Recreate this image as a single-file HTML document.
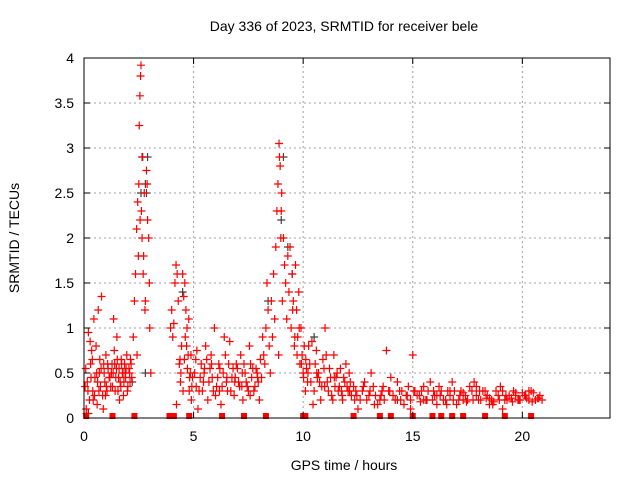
<!DOCTYPE html>
<html><head><meta charset="utf-8"><style>
body{margin:0;background:#fff;}
svg{display:block;font-family:"Liberation Sans",sans-serif;}
</style></head><body>
<svg id="chart" width="640" height="480">
<text x="344" y="31" text-anchor="middle" font-size="14">Day 336 of 2023, SRMTID for receiver bele</text>
<text x="344" y="470" text-anchor="middle" font-size="14">GPS time / hours</text>
<text transform="translate(19,238) rotate(-90)" text-anchor="middle" font-size="14">SRMTID / TECUs</text>
<g id="grid"></g><g id="marks"></g><g id="axes"></g>
</svg>
<script>
const xTicks=[0,5,10,15,20];
const yTicks=[0,0.5,1,1.5,2,2.5,3,3.5,4];
const yTickLabels=["0","0.5","1","1.5","2","2.5","3","3.5","4"];
const redT=[0.05,0.1,0.15,0.2,0.25,0.3,0.35,0.4,0.45,0.5,0.55,0.6,0.65,0.7,0.75,0.8,0.85,0.9,0.95,1.0,1.05,1.1,1.15,0.12,0.28,0.42,0.58,0.72,0.88,1.02,
1.25,1.3,1.35,1.4,1.45,1.5,1.55,1.6,1.65,1.7,1.75,1.8,1.85,1.9,1.95,2.0,2.05,2.1,2.15,1.38,1.62,1.88,
2.25,2.3,2.35,2.4,2.45,2.5,2.52,2.55,2.58,2.6,2.62,2.65,2.7,2.75,2.8,2.85,2.9,2.95,3.0,3.05,2.48,2.68,2.78,2.88,2.98,2.42,2.56,2.72,
3.95,4.0,4.05,4.1,4.15,4.2,4.25,4.3,4.35,4.4,4.45,4.5,4.55,4.6,4.65,4.7,4.75,4.8,4.85,4.9,4.95,4.22,4.38,4.62,4.78,
5.05,5.15,5.25,5.35,5.45,5.55,5.65,5.75,5.85,5.95,6.05,6.15,6.25,6.35,6.45,6.55,6.65,6.75,6.85,6.95,7.05,7.15,7.25,7.35,7.45,7.55,7.65,7.75,7.85,7.95,8.05,8.15,5.2,5.6,6.0,6.4,6.8,7.2,7.6,8.0,
8.25,8.3,8.35,8.4,8.45,8.5,8.55,8.6,8.65,8.7,8.75,8.8,8.85,8.9,8.95,9.0,9.05,9.1,9.15,9.2,9.25,9.3,9.35,9.4,9.45,9.5,9.55,9.6,9.65,9.7,9.75,9.8,9.85,9.9,9.95,10.0,10.05,10.1,10.15,10.2,8.92,8.98,9.02,8.88,
10.3,10.4,10.5,10.6,10.7,10.8,10.9,11.0,11.1,11.2,11.3,11.4,11.5,11.6,11.7,11.8,11.9,12.0,12.1,12.2,10.45,10.75,11.05,11.35,11.65,11.95,
12.4,12.6,12.8,13.0,13.2,13.4,13.6,13.8,14.0,14.2,14.4,14.6,14.8,15.0,15.2,15.4,15.6,15.8,16.0,16.2,16.4,16.6,16.8,17.0,17.2,17.4,17.6,17.8,18.0,18.2,18.4,18.6,18.8,19.0,19.2,19.4,19.6,19.8,20.0,20.2,20.4,20.6,20.8,12.5,13.1,13.7,14.3,14.9,15.5,16.1,16.7,17.3,17.9,18.5,19.1,19.7,20.3];
const redV=[0.35,0.1,0.4,0.95,0.2,0.6,0.75,0.3,1.1,0.45,0.8,0.15,1.2,0.5,0.35,1.35,0.25,0.6,0.4,0.7,0.3,0.55,0.45,0.05,0.85,0.2,0.5,0.65,0.1,0.35,
0.5,0.35,1.1,0.6,0.45,0.9,0.3,0.55,0.4,0.65,0.5,0.25,0.6,0.45,0.7,0.35,0.55,0.4,0.6,0.75,0.2,0.5,
0.9,1.3,1.6,2.1,2.4,2.6,3.25,3.58,3.8,3.92,2.3,2.0,1.6,2.5,1.3,2.75,2.2,2.0,1.0,0.5,1.8,2.9,1.2,2.6,1.5,0.7,2.2,1.8,
1.0,1.2,0.9,1.05,1.5,1.7,1.6,1.3,0.6,0.4,0.8,1.6,1.35,1.5,1.2,1.0,0.7,0.3,0.5,0.2,0.45,0.15,0.65,0.9,1.1,
0.5,0.75,0.3,0.6,0.4,0.8,0.2,0.55,0.45,1.0,0.35,0.6,0.15,0.5,0.7,0.3,0.85,0.45,0.25,0.6,0.4,0.7,0.2,0.5,0.35,0.8,0.45,0.3,0.55,0.4,0.65,0.9,0.1,0.65,0.25,0.9,0.55,0.35,0.6,0.2,
0.6,1.0,1.5,1.2,0.8,0.5,1.3,0.9,1.6,1.1,1.9,2.3,2.6,3.05,2.8,2.3,1.3,2.0,1.7,1.5,1.1,1.8,1.4,1.9,1.0,1.6,1.3,0.8,1.7,1.2,0.9,1.4,0.6,1.0,0.7,0.5,0.8,0.3,0.55,0.4,2.9,2.0,2.5,0.7,
0.6,0.85,0.3,0.75,0.5,0.2,0.65,1.0,0.4,0.55,0.25,0.7,0.45,0.3,0.55,0.2,0.4,0.35,0.5,0.25,0.15,0.4,0.7,0.2,0.35,0.6,
0.3,0.2,0.4,0.25,0.35,0.15,0.3,0.75,0.45,0.2,0.3,0.15,0.35,0.7,0.25,0.3,0.2,0.4,0.25,0.35,0.2,0.3,0.4,0.15,0.3,0.25,0.35,0.4,0.2,0.3,0.25,0.2,0.3,0.35,0.2,0.25,0.3,0.2,0.28,0.22,0.3,0.2,0.25,0.1,0.5,0.2,0.4,0.1,0.35,0.15,0.3,0.2,0.35,0.15,0.1,0.25,0.3];
const redT2=[0.08,0.18,0.32,0.38,0.48,0.62,0.68,0.78,0.92,0.98,1.08,1.18,1.22,1.28,1.33,1.42,1.48,1.52,1.58,1.68,1.72,1.78,1.82,1.92,1.98,2.08,2.12,2.18,
4.42,4.52,4.58,4.68,4.72,4.82,4.88,4.92,5.1,5.3,5.4,5.5,5.7,5.8,5.9,6.1,6.2,6.3,6.5,6.6,6.7,6.9,7.0,7.1,7.3,7.4,7.5,7.7,7.8,7.9,8.1,8.2,5.12,5.48,5.82,6.18,6.52,6.88,7.22,7.58,7.92,
9.52,9.62,9.72,9.82,9.92,10.02,10.12,10.22,10.35,10.55,10.65,10.85,10.95,11.15,11.25,11.45,11.55,11.75,11.85,12.05,12.15,10.25,10.62,10.98,11.42,11.78,12.12,
12.3,12.45,12.7,12.9,13.05,13.3,13.5,13.65,13.9,14.1,14.3,14.5,14.7,14.9,15.1,15.3,15.5,15.7,15.9,16.1,16.3,16.5,16.7,16.9,17.1,17.3,17.5,17.7,17.9,18.1,18.3,18.5,18.7,18.9,19.1,19.3,19.5,19.7,19.9,20.1,20.3,20.5,20.7,20.9,
12.35,12.75,13.25,13.55,13.95,14.45,14.75,15.05,15.35,15.65,15.95,16.25,16.55,16.85,17.15,17.45,17.75,18.05,18.35,18.65,18.95,19.25,19.55,19.85,20.15,20.45,20.75];
const redV2=[0.55,0.3,0.45,0.65,0.25,0.4,0.3,0.55,0.5,0.25,0.6,0.45,0.35,0.6,0.5,0.3,0.55,0.65,0.45,0.35,0.6,0.5,0.4,0.55,0.3,0.5,0.65,0.45,
0.5,0.3,0.65,0.8,0.55,0.45,0.7,0.35,0.65,0.45,0.3,0.55,0.4,0.7,0.3,0.45,0.55,0.35,0.4,0.6,0.3,0.45,0.55,0.35,0.6,0.4,0.3,0.55,0.35,0.5,0.45,0.7,0.35,0.5,0.6,0.3,0.45,0.4,0.5,0.25,0.45,
1.2,0.9,0.7,1.0,0.6,0.45,0.65,0.5,0.4,0.6,0.45,0.35,0.55,0.3,0.45,0.35,0.5,0.3,0.45,0.3,0.4,0.8,0.5,0.35,0.45,0.25,0.3,
0.35,0.25,0.3,0.2,0.3,0.25,0.2,0.35,0.3,0.25,0.2,0.3,0.25,0.2,0.3,0.25,0.2,0.3,0.2,0.25,0.3,0.2,0.25,0.3,0.2,0.28,0.2,0.3,0.25,0.2,0.3,0.22,0.18,0.25,0.3,0.2,0.22,0.28,0.2,0.25,0.2,0.28,0.22,0.2,
0.2,0.35,0.15,0.25,0.3,0.2,0.25,0.3,0.18,0.2,0.3,0.25,0.15,0.2,0.25,0.18,0.2,0.3,0.22,0.15,0.2,0.25,0.18,0.2,0.25,0.18,0.22];
const grayT=[2.65,2.8,2.9,2.6,2.85,9.0,9.3,9.5,9.1,8.4,4.5,10.5,0.2,2.2,2.8];
const grayV=[2.9,2.6,2.9,2.5,2.5,2.2,1.9,1.6,2.9,1.3,1.4,0.9,0.05,0.4,0.5];
const zeroT=[0.1,1.3,2.3,3.9,4.1,4.8,6.3,7.3,8.3,10.0,10.1,12.3,13.5,14.0,15.0,15.9,16.3,16.8,17.3,18.3,19.2,20.4];
const X0=84,X1=610,Y0=418,Y1=58;
const xs=t=>X0+(t/24)*(X1-X0), ys=v=>Y0-(v/4)*(Y0-Y1);
const NS="http://www.w3.org/2000/svg";
function mk(tag,attrs,parent){const e=document.createElementNS(NS,tag);for(const k in attrs)e.setAttribute(k,attrs[k]);parent.appendChild(e);return e;}
const grid=document.getElementById('grid'),marks=document.getElementById('marks'),axes=document.getElementById('axes');
xTicks.forEach(t=>{
 if(t>0){const l=mk('line',{x1:xs(t),x2:xs(t),y1:Y0,y2:Y1,stroke:'#a0a0a0','stroke-dasharray':'2,3'},grid);
 
 }
 const tx=mk('text',{x:xs(t),y:Y0+23,'text-anchor':'middle','font-size':14},axes);tx.textContent=t;
 
 
 mk('line',{x1:xs(t),x2:xs(t),y1:Y0,y2:Y0-6,stroke:'#000'},axes);
 mk('line',{x1:xs(t),x2:xs(t),y1:Y1,y2:Y1+6,stroke:'#000'},axes);
});
yTicks.forEach((v,i)=>{
 if(v>0&&v<4){const l=mk('line',{x1:X0,x2:X1,y1:ys(v),y2:ys(v),stroke:'#a0a0a0','stroke-dasharray':'2,3'},grid);
 
 }
 const tx=mk('text',{x:X0-10,y:ys(v)+5,'text-anchor':'end','font-size':14},axes);tx.textContent=yTickLabels[i];
 
 
 mk('line',{x1:X0,x2:X0+6,y1:ys(v),y2:ys(v),stroke:'#000'},axes);
 mk('line',{x1:X1,x2:X1-6,y1:ys(v),y2:ys(v),stroke:'#000'},axes);
});
const fr=mk('rect',{x:X0,y:Y1,width:X1-X0,height:Y0-Y1,fill:'none',stroke:'#000'},axes);


function plus(t,v,c){const x=xs(t),y=ys(v);
 return mk('path',{d:`M${x-4},${y}h8M${x},${y-4}v8`,stroke:c,'stroke-width':1.2},marks);}
grayT.forEach((t,i)=>{const p=plus(t,grayV[i],'#404040');
 
 });
redT.forEach((t,i)=>{const p=plus(t,redV[i],'#ff0000');
 
 });
redT2.forEach((t,i)=>{const p=plus(t,redV2[i],'#ff0000');
 
 });
zeroT.forEach(t=>{const r=mk('rect',{x:xs(t)-3,y:Y0-5,width:6,height:6,fill:'#ff0000'},marks);
 
 });
</script>
</body></html>
